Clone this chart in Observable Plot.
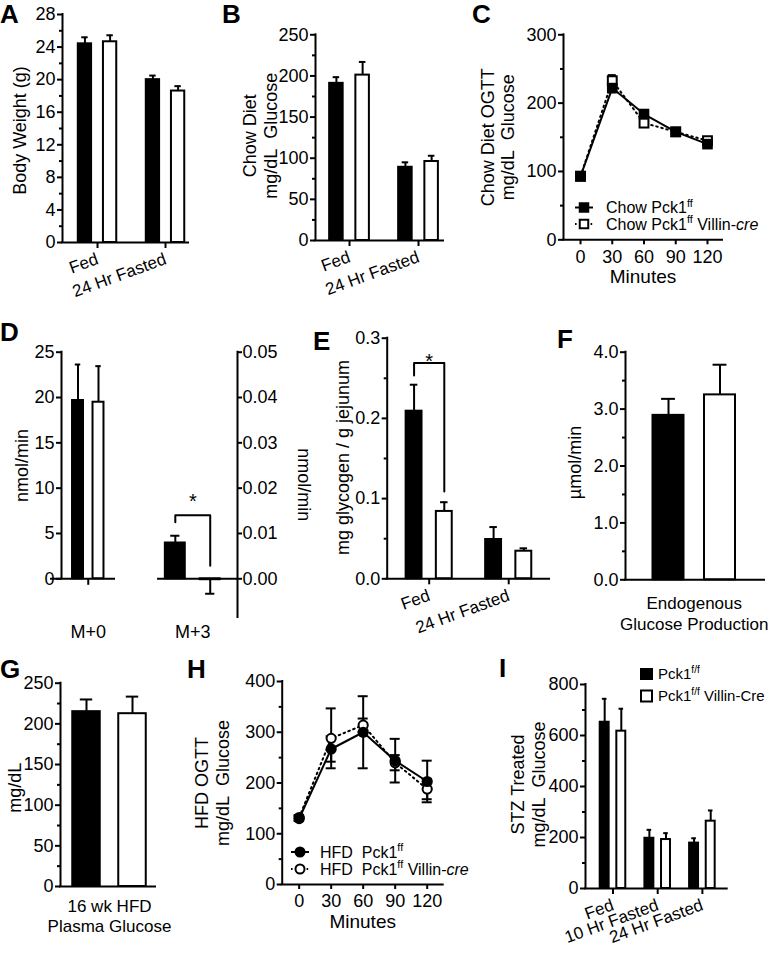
<!DOCTYPE html>
<html><head><meta charset="utf-8">
<script src="https://cdn.jsdelivr.net/npm/d3@7"></script>
<script src="https://cdn.jsdelivr.net/npm/@observablehq/plot@0.6"></script>
<style>
body{margin:0;background:#fff}
#root{position:relative;width:769px;height:954px;overflow:hidden;background:#fff}
#root svg{position:absolute;left:0;top:0}
</style></head><body><div id="root"></div>
<script>
// ---------------- DATA ----------------
// A: body weight
const aGroups = ["Fed", "24 Hr Fasted"];
const aCtrl = [24.4, 20.0];
const aCtrlErr = [0.8, 0.5];
const aKO = [24.65, 18.6];
const aKOErr = [0.8, 0.6];
const aTicks = [0, 4, 8, 12, 16, 20, 24, 28];
// B: chow diet glucose
const bGroups = ["Fed", "24 Hr Fasted"];
const bCtrl = [191, 89];
const bCtrlErr = [7.5, 6];
const bKO = [201, 96];
const bKOErr = [16, 7];
const bTicks = [0, 50, 100, 150, 200, 250];
// C: chow OGTT
const cMinutes = [0, 30, 60, 90, 120];
const cCtrl = [93, 222, 184, 158, 140];
const cCtrlErr = [4, 6, 6, 4, 5];
const cKO = [93, 233, 171, 158, 145];
const cKOErr = [4, 8, 6, 4, 5];
const cTicks = [0, 100, 200, 300];
// D: isotopomers (M+0 on left axis, M+3 on right axis)
const dGroups = ["M+0", "M+3"];
const dCtrl = [19.67, 0.0079];
const dCtrlErr = [3.97, 0.0016];
const dKO = [19.48, -0.0002];
const dKOErr = [3.98, 0.0031];
const dLeftTicks = [0, 5, 10, 15, 20, 25];
const dRightTicks = [0, 0.01, 0.02, 0.03, 0.04, 0.05];
const dSig = {group: 1, legLeft: 0.0125, top: 0.014, legRight: 0.0029, star: 0.017};
// E: glycogen
const eGroups = ["Fed", "24 Hr Fasted"];
const eCtrl = [0.209, 0.049];
const eCtrlErr = [0.033, 0.0155];
const eKO = [0.084, 0.0344];
const eKOErr = [0.0115, 0.0036];
const eTicks = [0, 0.1, 0.2, 0.3];
const eSig = {group: 0, legLeft: 0.2535, top: 0.269, legRight: 0.109, star: 0.2705};
// F: endogenous glucose production
const fCtrl = [2.89];
const fCtrlErr = [0.29];
const fKO = [3.25];
const fKOErr = [0.53];
const fTicks = [0, 1, 2, 3, 4];
// G: HFD plasma glucose
const gCtrl = [215];
const gCtrlErr = [15];
const gKO = [212.5];
const gKOErr = [21];
const gTicks = [0, 50, 100, 150, 200, 250];
// H: HFD OGTT
const hMinutes = [0, 30, 60, 90, 120];
const hCtrl = [130, 267, 300, 244, 203];
const hCtrlErr = [5, 25, 71, 43, 41];
const hKO = [132, 288, 314, 240, 188];
const hKOErr = [5, 59, 13, 15, 20];
const hTicks = [0, 100, 200, 300, 400];
// I: STZ treated
const iGroups = ["Fed", "10 Hr Fasted", "24 Hr Fasted"];
const iCtrl = [652, 197, 178];
const iCtrlErr = [92, 33, 19];
const iKO = [617, 192, 264];
const iKOErr = [88, 25, 42];
const iTicks = [0, 200, 400, 600, 800];
// legends
const cLegend = [[{t: "Chow Pck1"}, {t: "ff", sup: true}], [{t: "Chow Pck1"}, {t: "ff", sup: true}, {t: " Villin-"}, {t: "cre", it: true}]];
const hLegend = [[{t: "HFD  Pck1"}, {t: "ff", sup: true}], [{t: "HFD  Pck1"}, {t: "ff", sup: true}, {t: " Villin-"}, {t: "cre", it: true}]];
const iLegend = [[{t: "Pck1"}, {t: "f/f", sup: true}], [{t: "Pck1"}, {t: "f/f", sup: true}, {t: " Villin-Cre"}]];

// ---------------- HELPERS ----------------
const root = document.getElementById("root");
const W = 769, H = 954;
const FONT = '"Liberation Sans", Arial, Helvetica, sans-serif';
const SW = 2;
const DOTS = "1.6,3.6";

function mount(f, x, y, marks) {
  const svg = Plot.plot({
    width: W, height: H,
    marginLeft: f[0], marginRight: W - f[1], marginTop: f[2], marginBottom: H - f[3],
    x: {label: null, ...x}, y: {label: null, ...y},
    style: {fontFamily: FONT, fontSize: "18px", background: "transparent", color: "black", overflow: "visible"},
    marks: marks.flat().filter(Boolean)
  });
  svg.style.position = "absolute"; svg.style.left = "0px"; svg.style.top = "0px";
  root.appendChild(svg);
  return svg;
}
function minorOf(ticks) {
  const out = [];
  for (let i = 0; i < ticks.length - 1; i++) out.push((ticks[i] + ticks[i + 1]) / 2);
  return out;
}
function yAxis(ticks, fmt, minor = true, anchor = "left") {
  return [
    Plot.axisY({anchor, ticks, tickFormat: fmt, tickSize: 5, tickPadding: 2, strokeWidth: SW, label: null}),
    minor ? Plot.axisY({anchor, ticks: minorOf(ticks), tickFormat: () => "", tickSize: 3, strokeWidth: SW, label: null}) : null
  ];
}
function yLabel(text, dx, dy = 0, rotate = -90, anchor = "left") {
  return Plot.text([text], {text: d => d, frameAnchor: anchor, rotate, dx, dy, fontSize: 18, lineHeight: 1.15, lineAnchor: "middle", textAnchor: "middle"});
}
function barMarks(groupsN, series, offset, bw) {
  const bars = [];
  series.forEach((s, si) => s.values.forEach((v, gi) => {
    const off = Array.isArray(offset) ? offset[gi] : offset;
    const w = Array.isArray(bw) ? bw[gi] : bw;
    const scale = s.scale ? s.scale[gi] : 1;
    const c = gi + (si ? off : -off);
    const e = s.errors[gi];
    bars.push({si, c, w, v: v * scale, tip: (v < 0 ? v - e : v + e) * scale});
  }));
  const rect = (si, fill) => Plot.rect(bars.filter(d => d.si === si), {
    x1: d => d.c - d.w / 2, x2: d => d.c + d.w / 2, y1: 0, y2: "v",
    fill, stroke: "black", strokeWidth: SW, insetLeft: 1, insetRight: 1
  });
  return [
    Plot.ruleX(bars, {x: "c", y1: "v", y2: "tip", stroke: "black", strokeWidth: SW}),
    Plot.ruleY(bars, {y: "tip", x1: d => d.c - d.w * 0.21, x2: d => d.c + d.w * 0.21, stroke: "black", strokeWidth: SW}),
    rect(0, "black"), rect(1, "white")
  ];
}
function sigMarks(sig, offset, scale = 1) {
  const cl = sig.group - offset, cr = sig.group + offset;
  const pts = [[cl, sig.legLeft], [cl, sig.top], [cr, sig.top], [cr, sig.legRight]].map(([x, y]) => ({x, y: y * scale}));
  return [
    Plot.line(pts, {x: "x", y: "y", stroke: "black", strokeWidth: SW}),
    Plot.text([{x: sig.group, y: sig.star * scale}], {x: "x", y: "y", text: () => "*", fontSize: 20, lineAnchor: "middle"})
  ];
}
function frameRules(xmin) {
  return [
    Plot.ruleY([0], {stroke: "black", strokeWidth: SW, strokeLinecap: "square"}),
    Plot.ruleX([xmin], {stroke: "black", strokeWidth: SW, strokeLinecap: "square"})
  ];
}
function groupAxis(groups, rotate = -20) {
  return Plot.axisX({ticks: d3.range(groups.length), tickFormat: i => groups[i], tickSize: 6, tickPadding: 10, tickRotate: rotate, fontSize: 17, strokeWidth: SW, label: null});
}
function barPanel(p) {
  return mount(p.f, {domain: p.xDomain, ...(p.noX ? {axis: null} : {})}, {domain: p.yDomain}, [
    barMarks(p.groups.length, p.series, p.offset, p.bw),
    frameRules(p.xDomain[0]),
    yAxis(p.yTicks, p.yFmt, p.minor !== false),
    p.noX ? null : groupAxis(p.groups, p.rotate),
    p.extra || []
  ]);
}
function linePanel(p) {
  const kx = (p.f[1] - p.f[0]) / (p.xDomain[1] - p.xDomain[0]);
  const cap = p.capPx / kx;
  const rows = p.series.map(s => p.times.map((t, i) => ({t, v: s.values[i], e: s.errors[i]})));
  const [ctrl, ko] = rows;
  const all = rows.flat();
  return mount(p.f, {domain: p.xDomain}, {domain: p.yDomain}, [
    frameRules(p.xDomain[0]),
    yAxis(p.yTicks, d => d, true),
    Plot.axisX({ticks: p.times, tickSize: 5, tickPadding: 5, strokeWidth: SW, label: null}),
    Plot.text(["Minutes"], {text: d => d, frameAnchor: "bottom", dy: 37, fontSize: 19, lineAnchor: "middle", textAnchor: "middle"}),
    Plot.line(ko, {x: "t", y: "v", stroke: "black", strokeWidth: SW, strokeDasharray: DOTS}),
    Plot.line(ctrl, {x: "t", y: "v", stroke: "black", strokeWidth: SW}),
    Plot.ruleX(all, {x: "t", y1: d => d.v - d.e, y2: d => d.v + d.e, stroke: "black", strokeWidth: SW}),
    Plot.ruleY(all, {y: d => d.v - d.e, x1: d => d.t - cap, x2: d => d.t + cap, stroke: "black", strokeWidth: SW}),
    Plot.ruleY(all, {y: d => d.v + d.e, x1: d => d.t - cap, x2: d => d.t + cap, stroke: "black", strokeWidth: SW}),
    Plot.dot(ko, {x: "t", y: "v", symbol: p.symbol, r: p.symbol === "square" ? 5 : 4.6, fill: "white", stroke: "black", strokeWidth: SW}),
    Plot.dot(ctrl, {x: "t", y: "v", symbol: p.symbol, r: p.symbol === "square" ? 6 : 5.6, fill: "black", stroke: "none"}),
    p.extra || []
  ]);
}

// ---------------- PANELS ----------------
// A
barPanel({f: [62, 188, 14, 242], xDomain: [-0.515, 1.338], yDomain: [0, 28], groups: aGroups,
  series: [{values: aCtrl, errors: aCtrlErr}, {values: aKO, errors: aKOErr}], offset: 0.185, bw: 0.225,
  yTicks: aTicks, yFmt: d => d, extra: [yLabel("Body Weight (g)", -43, 2)]});
// B
barPanel({f: [315, 443, 34.3, 240], xDomain: [-0.493, 1.362], yDomain: [0, 250], groups: bGroups,
  series: [{values: bCtrl, errors: bCtrlErr}, {values: bKO, errors: bKOErr}], offset: 0.19, bw: 0.225,
  yTicks: bTicks, yFmt: d => d, extra: [yLabel("Chow Diet\nmg/dL\u00a0 Glucose", -55.5, -2)]});
// C
linePanel({f: [563, 722, 34.3, 239.3], xDomain: [-16.1, 134.2], yDomain: [0, 300], times: cMinutes,
  series: [{values: cCtrl, errors: cCtrlErr}, {values: cKO, errors: cKOErr}], yTicks: cTicks, symbol: "square", capPx: 4,
  extra: [yLabel("Chow Diet OGTT\nmg/dL\u00a0 Glucose", -66, 0)]});
// D
{
  const f = [61, 237, 351.7, 617];
  const xDomain = [-0.256, 1.428];
  const ky = (578.3 - 351.7) / 25;
  const yBottom = -(617 - 578.3) / ky;
  const k = 500; // right axis 0.05 <-> left axis 25
  const scaleArr = [1, k];
  mount(f, {domain: xDomain}, {domain: [yBottom, 25]}, [
    barMarks(2, [{values: dCtrl, errors: dCtrlErr, scale: scaleArr}, {values: dKO, errors: dKOErr, scale: scaleArr}], [0.098, 0.167], [0.124, 0.21]),
    sigMarks(dSig, 0.167, k),
    Plot.ruleY([0], {x1: -0.361, x2: 0.261, stroke: "black", strokeWidth: SW}),
    Plot.ruleY([0], {x1: 0.663, x2: xDomain[1], stroke: "black", strokeWidth: SW}),
    Plot.ruleX([xDomain[0]], {y1: 0, y2: 25, stroke: "black", strokeWidth: SW, strokeLinecap: "square"}),
    Plot.ruleX([xDomain[1]], {stroke: "black", strokeWidth: SW, strokeLinecap: "square"}),
    Plot.ruleX([0], {y1: 0, y2: -6.5 / ky, stroke: "black", strokeWidth: SW}),
    Plot.axisY({anchor: "left", ticks: dLeftTicks, tickSize: 5, tickPadding: 2, strokeWidth: SW, label: null}),
    Plot.axisY({anchor: "right", ticks: dRightTicks.map(v => v * k), tickFormat: d => (d / k).toFixed(2), tickSize: 4, tickPadding: 1, strokeWidth: SW, label: null}),
    Plot.axisX({ticks: [0, 1], tickFormat: i => dGroups[i], tickSize: 0, tickPadding: 8, label: null}),
    Plot.text(["nmol/min"], {text: d => d, x: xDomain[0], y: 12.5, rotate: -90, dx: -39, fontSize: 18, lineAnchor: "middle", textAnchor: "middle"}),
    yLabel("nmol/min", 67, 0, 90, "right")
  ]);
}
// E
barPanel({f: [386.7, 549, 337.7, 578.3], xDomain: [-0.528, 1.513], yDomain: [0, 0.3], groups: eGroups,
  series: [{values: eCtrl, errors: eCtrlErr}, {values: eKO, errors: eKOErr}], offset: 0.19, bw: 0.225,
  yTicks: eTicks, yFmt: d => d.toFixed(1),
  extra: [sigMarks(eSig, 0.19), yLabel("mg glycogen / g jejunum", -44.7, -1)]});
// F
barPanel({f: [625, 764, 351.7, 579.3], xDomain: [-0.6875, 0.7025], yDomain: [0, 4], groups: [""], noX: true,
  series: [{values: fCtrl, errors: fCtrlErr}, {values: fKO, errors: fKOErr}], offset: 0.2575, bw: 0.33,
  yTicks: fTicks, yFmt: d => d.toFixed(1),
  extra: [yLabel("\u00b5mol/min", -51, -3.5),
    Plot.text(["Endogenous\nGlucose Production"], {text: d => d, x: 0, frameAnchor: "bottom", dy: 15, lineAnchor: "top", textAnchor: "middle", lineHeight: 1.2, fontSize: 17})]});
// G
barPanel({f: [60, 155, 682.7, 886], xDomain: [-0.49, 0.46], yDomain: [0, 250], groups: [""], noX: true,
  series: [{values: gCtrl, errors: gCtrlErr}, {values: gKO, errors: gKOErr}], offset: 0.23, bw: 0.295,
  yTicks: gTicks, yFmt: d => d,
  extra: [yLabel("mg/dL", -46, 3),
    Plot.text(["16 wk HFD\nPlasma Glucose"], {text: d => d, x: 0, frameAnchor: "bottom", dy: 11, lineAnchor: "top", textAnchor: "middle", lineHeight: 1.2, fontSize: 17})]});
// H
linePanel({f: [281.7, 442.7, 681, 884], xDomain: [-15.9, 135], yDomain: [0, 400], times: hMinutes,
  series: [{values: hCtrl, errors: hCtrlErr}, {values: hKO, errors: hKOErr}], yTicks: hTicks, symbol: "circle", capPx: 5,
  extra: [yLabel("HFD OGTT\nmg/dL\u00a0 Glucose", -70, 0)]});
// I
barPanel({f: [585, 726.7, 684, 888], xDomain: [-0.615, 2.555], yDomain: [0, 800], groups: iGroups,
  series: [{values: iCtrl, errors: iCtrlErr}, {values: iKO, errors: iKOErr}], offset: 0.186, bw: 0.245,
  yTicks: iTicks, yFmt: d => d, extra: [yLabel("STZ Treated\nmg/dL\u00a0 Glucose", -57.5, -2)]});

// ---------------- OVERLAY: panel letters & legends ----------------
const ov = d3.select(root).append("svg").attr("width", W).attr("height", H)
  .style("font-family", FONT).style("overflow", "visible");
const letters = [["A", 0, 23], ["B", 222, 23], ["C", 472, 23], ["D", 0, 341], ["E", 313, 350], ["F", 557, 348], ["G", 0, 678], ["H", 187, 678], ["I", 499, 677]];
letters.forEach(([t, x, y]) => ov.append("text").attr("x", x).attr("y", y).attr("font-size", 26).attr("font-weight", "bold").text(t));

function rich(x, cy, parts, size) {
  const t = ov.append("text").attr("x", x).attr("y", cy + 0.36 * size).attr("font-size", size).style("white-space", "pre");
  let shift = 0;
  parts.forEach(p => {
    const ts = t.append("tspan").text(p.t);
    if (p.sup) { ts.attr("font-size", size * 0.68).attr("dy", -0.42 * size); shift = 0.42 * size; }
    else if (shift) { ts.attr("dy", shift); shift = 0; }
    if (p.it) ts.attr("font-style", "italic");
  });
}
function lineSwatch(x0, x1, cy, dashed, symbol, filled) {
  ov.append("line").attr("x1", x0).attr("x2", x1).attr("y1", cy).attr("y2", cy).attr("stroke", "black").attr("stroke-width", 2).attr("stroke-dasharray", dashed ? DOTS : null);
  const cx = (x0 + x1) / 2;
  if (symbol === "square") {
    const s = filled ? 10.5 : 8.5;
    ov.append("rect").attr("x", cx - s / 2).attr("y", cy - s / 2).attr("width", s).attr("height", s).attr("fill", filled ? "black" : "white").attr("stroke", filled ? "none" : "black").attr("stroke-width", 2);
  } else {
    ov.append("circle").attr("cx", cx).attr("cy", cy).attr("r", filled ? 5.5 : 4.5).attr("fill", filled ? "black" : "white").attr("stroke", filled ? "none" : "black").attr("stroke-width", 2);
  }
}
// C legend
lineSwatch(575, 593, 207.5, false, "square", true); rich(606, 207.5, cLegend[0], 16);
lineSwatch(575, 593, 224, true, "square", false); rich(606, 224, cLegend[1], 16);
// H legend
lineSwatch(291, 309, 852, false, "circle", true); rich(320, 852, hLegend[0], 16);
lineSwatch(291, 309, 869, true, "circle", false); rich(320, 869, hLegend[1], 16);
// I legend
ov.append("rect").attr("x", 640).attr("y", 668).attr("width", 13).attr("height", 12).attr("fill", "black");
rich(658, 674, iLegend[0], 15);
ov.append("rect").attr("x", 641).attr("y", 690.5).attr("width", 11).attr("height", 11).attr("fill", "white").attr("stroke", "black").attr("stroke-width", 2);
rich(658, 696, iLegend[1], 15);
</script></body></html>
